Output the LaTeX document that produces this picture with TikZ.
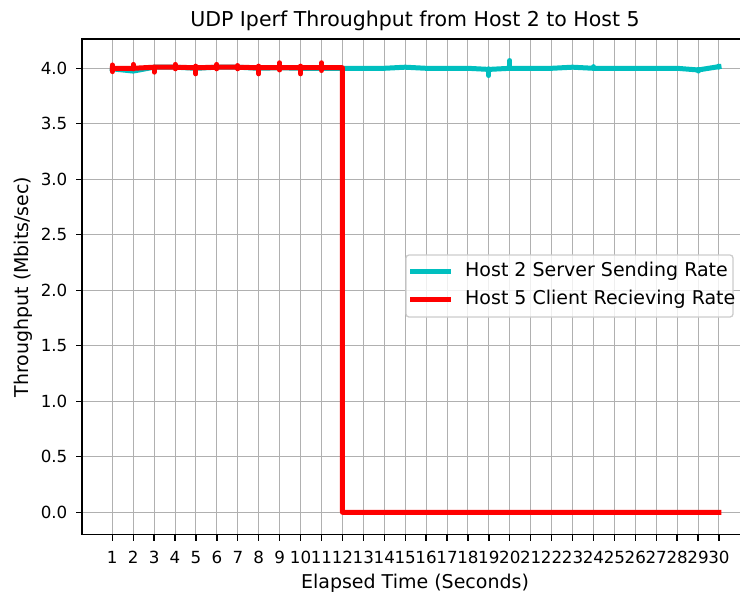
\documentclass[tikz,border=0pt]{standalone}
\usepackage{fontspec}
\setmainfont{DejaVu Sans}
\usetikzlibrary{positioning}
\definecolor{SendCyan}{HTML}{00BFBF}
\definecolor{RecvRed}{HTML}{FF0000}
\definecolor{GridGray}{HTML}{B0B0B0}
\definecolor{LegendEdge}{HTML}{CCCCCC}

\begin{document}
\begin{tikzpicture}[x=1pt,y=-1pt,
    every node/.style={font=\fontsize{16.7}{20}\selectfont,inner sep=0pt},
    lbl/.style={font=\fontsize{19}{23}\selectfont},
    gridln/.style={GridGray,line width=1pt},
    spine/.style={black,line width=1.3pt},
    sendln/.style={SendCyan,line width=5pt,line join=round,line cap=rect},
    recvln/.style={RecvRed,line width=5pt,line join=round,line cap=rect},
    spike/.style={line cap=round}]
  \useasboundingbox (0,0) rectangle (740,595);
  \begin{scope}[shift={(91.38,512.3)},x=20.92pt,y=111pt]
    % grid
    \foreach \t in {1,...,30}
      \draw[gridln] (\t,-0.2) -- (\t,4.264);
    \foreach \v in {0.0,0.5,1.0,1.5,2.0,2.5,3.0,3.5,4.0}
      \draw[gridln] (-0.45,\v) -- (31.45,\v);
    % Host 2 sending rate
    \draw[sendln] (1,3.995) -- (2,3.975) -- (3,4.01) -- (4,4.01) -- (5,4.0)
      -- (6,4.01) -- (7,4.01) -- (8,4.0) -- (9,4.005) -- (10,4.0) -- (11,4.0)
      -- (12,4.0) -- (13,4.0) -- (14,4.0) -- (15,4.01) -- (16,4.0) -- (17,4.0)
      -- (18,4.0) -- (19,3.99) -- (20,4.0) -- (21,4.0) -- (22,4.0) -- (23,4.01)
      -- (24,4.0) -- (25,4.0) -- (26,4.0) -- (27,4.0) -- (28,4.0) -- (29,3.985)
      -- (30,4.015);
    \foreach \t/\lo/\hi in {19/3.935/3.995,20/4.005/4.07,29/3.975/3.99,
        24/4.0/4.015,30/4.01/4.02}
      \draw[sendln,spike] (\t,\lo) -- (\t,\hi);
    % Host 5 receiving rate
    \draw[recvln] (1,4.0) -- (2,4.0) -- (3,4.01) -- (4,4.01) -- (5,4.005)
      -- (6,4.01) -- (7,4.01) -- (8,4.005) -- (9,4.005) -- (10,4.005)
      -- (11,4.005) -- (12,4.005) -- (12,0) -- (30,0);
    \foreach \t/\lo/\hi in {1/3.97/4.03,2/3.995/4.035,3/3.965/4.01,
        4/3.995/4.035,5/3.95/4.02,6/3.995/4.035,7/3.995/4.025,8/3.95/4.02,
        9/3.985/4.05,10/3.95/4.02,11/3.98/4.05}
      \draw[recvln,spike] (\t,\lo) -- (\t,\hi);
    % spines and ticks
    \draw[spine] (31.45,-0.2) -- (-0.45,-0.2) -- (-0.45,4.264) -- (31.45,4.264);
    \foreach \t in {1,...,30}
      \draw[spine] (\t,-0.2) -- ++(0,-6pt) node[below=10pt] (xt\t) {\t};
    \foreach \v in {0.0,0.5,1.0,1.5,2.0,2.5,3.0,3.5,4.0}
      \draw[spine] (-0.45,\v) -- ++(-6pt,0) node[left=8pt] (yt\v) {\v};
  \end{scope}
  % title and axis labels
  \node[font=\fontsize{20.5}{24}\selectfont,anchor=base] (title) at (415,26)
    {UDP Iperf Throughput from Host 2 to Host 5};
  \node[lbl,anchor=base] (xlab) at (415,588) {Elapsed Time (Seconds)};
  \node[lbl,rotate=90,anchor=base] (ylab) at (28,287) {Throughput (Mbits/sec)};
  % legend
  \node[draw=LegendEdge,fill=white,fill opacity=0.8,line width=1.3pt,
        rounded corners=3pt,minimum width=327pt,minimum height=62pt]
    (legend) at (569.5,286) {};
  \draw[sendln,line cap=butt] (410,271) -- (451,271);
  \draw[recvln,line cap=butt] (410,299) -- (451,299);
  \node[lbl,anchor=west] (lgsend) at (465,271) {Host 2 Server Sending Rate};
  \node[lbl,anchor=west] (lgrecv) at (465,299) {Host 5 Client Recieving Rate};
\end{tikzpicture}
\end{document}
